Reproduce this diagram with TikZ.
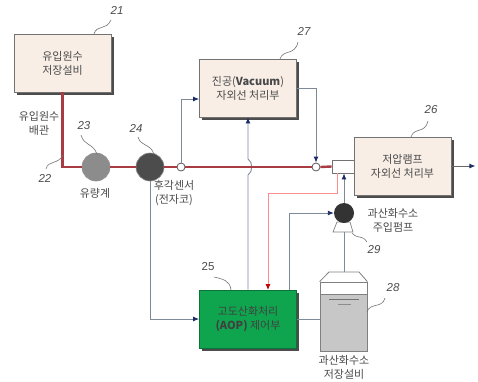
\documentclass[tikz,border=0pt]{standalone}
\usepackage{fontspec}
\setmainfont{Noto Sans CJK KR}
\newfontfamily\numfont{Liberation Sans}
\usepackage{xcolor}
\usepackage{tikz}
\usetikzlibrary{positioning,arrows.meta,shadows}
\definecolor{boxfill}{HTML}{F8EEE6}
\definecolor{aopgreen}{HTML}{0FA54E}
\definecolor{pipered}{HTML}{A93C42}
\definecolor{linegray}{HTML}{7F8A99}
\definecolor{tipblue}{HTML}{1C2C66}
\definecolor{txtgray}{HTML}{4A4A4A}
\begin{document}
\begin{tikzpicture}[
    x=1pt, y=-1pt,
    font=\fontsize{11}{14}\selectfont,
    blk/.style={draw=black!55, line width=0.8pt, minimum width=97pt, minimum height=58pt, align=center,
                text=txtgray, inner sep=0pt, drop shadow={shadow xshift=2.5pt, shadow yshift=-2.5pt, fill=black!70, opacity=1}},
    src/.style={blk, fill=boxfill},
    ctrl/.style={blk, fill=aopgreen, draw=aopgreen!70!black, text=black!75},
    txt/.style={align=center, text=txtgray, inner sep=0pt},
    num/.style={inner sep=0pt, text=black!70, font=\numfont\itshape\fontsize{11.5}{12}\selectfont},
    lead/.style={draw=black!55, line width=0.6pt},
    pipe/.style={draw=pipered, line width=2.4pt},
    sig/.style={draw=linegray, line width=0.9pt},
    sigto/.style={sig, -{Latex[length=6pt, width=5pt, color=tipblue]}},
    redto/.style={draw=red!45, line width=0.9pt, -{Latex[length=6pt, width=5pt, color=red!75!black]}},
    meter/.style={circle, draw=black!45, line width=0.6pt, minimum size=28pt, inner sep=0pt},
    joint/.style={circle, draw=black!65, fill=white, line width=0.8pt, minimum size=8pt, inner sep=0pt},
  ]
    \useasboundingbox (0,0) rectangle (478,381);

    % boxes
    \node[src] (store) at (62.5,63) {유입원수\\저장설비};
    \node[src] (vac) at (248,88) {진공(\textbf{Vacuum})\\자외선 처리부};
    \node[src] (lamp) at (402.5,166) {저압램프\\자외선 처리부};
    \node[ctrl] (aop) at (248,319) {고도산화처리\\\textbf{(AOP)} 제어부};

    % meters on the pipe
    \node[meter, fill=black!45] (flow) at (96,167) {};
    \node[meter, fill=black!70] (nose) at (150,167) {};
    \node[joint] (jointa) at (181,167) {};
    \node[joint] (jointb) at (316,167) {};
    \node[draw=black!55, fill=white, line width=0.8pt, minimum width=22pt, minimum height=13pt, inner sep=0pt] (valve) at (343,166.5) {};

    % tank
    \node[draw=black!50, fill=white, line width=0.8pt, minimum width=47pt, minimum height=69pt, inner sep=0pt] (tank) at (343.5,316.5) {};
    \node[draw=black!50, fill=black!22, line width=0.8pt, minimum width=47pt, minimum height=57pt, inner sep=0pt, anchor=south] (liquid) at (tank.south) {};
    \draw[draw=black!50, fill=white, line width=0.8pt] (tank.north west) -- (329,272) coordinate (cap) -- (359,272) -- (tank.north east);
    \draw[black!55, line width=0.7pt] (329,299) -- (359,299);
    \draw[black!45, line width=0.7pt] (338,304) -- (351,304);

    % pump
    \draw[draw=black!50, fill=white, line width=0.7pt] (337,222) -- (333,232) -- (353,232) -- (350,222) -- cycle;
    \node[circle, fill=black!80, minimum size=20pt, inner sep=0pt] (pump) at (344,213) {};
    \coordinate (pumpfoot) at (344,232);
    \coordinate (tanktop) at (344,272);

    % signal lines
    \draw[sigto] (jointa.north) |- (vac.west |- 0,99);
    \draw[sigto] (nose.south) |- (aop.west);
    \draw[sigto] (aop.north) -- (248,175) .. controls (253,172) and (253,162) .. (248,159) -- (vac.south);
    \draw[sigto] (vac.east) -| (jointb.north);
    \draw[sigto] (pump.north) -- (pump.north |- valve.south);
    \draw[sigto] (289,290) |- (pump.west);
    \draw[sig] (pumpfoot) -- (tanktop);
    \draw[sig] (aop.east) -- (aop.east -| tank.west);
    \draw[redto] (337,173) |- (268,193) -- (268,290);
    \draw[sigto, draw=black!60, -{Latex[length=6pt, width=5pt, color=tipblue]}] (lamp.east) -- ++(24,0) coordinate (outlet);

    % pipe
    \draw[pipe] (store.south) |- (flow.west);
    \draw[pipe] (flow.east) -- (nose.west);
    \draw[pipe] (nose.east) -- (jointa.west);
    \draw[pipe] (jointa.east) -- (jointb.west);
    \draw[pipe] (jointb.east) -- (valve.west);

    % labels
    \node[txt] (lblpipe) at (39,123) {유입원수\\배관};
    \node[txt] (lblflow) at (95,193) {유량계};
    \node[txt] (lblnose) at (174,193) {후각센서\\(전자코)};
    \node[txt] (lblpump) at (393,220) {과산화수소\\주입펌프};
    \node[txt] (lbltank) at (344,367) {과산화수소\\저장설비};

    % reference numbers
    \node[num] (n21) at (117,10) {21};
    \node[num] (n22) at (45,178) {22};
    \node[num] (n23) at (84,126) {23};
    \node[num] (n24) at (136,128) {24};
    \node[num, font=\numfont\fontsize{11.5}{12}\selectfont] (n25) at (208,267) {25};
    \node[num] (n26) at (431,110) {26};
    \node[num] (n27) at (304,31) {27};
    \node[num] (n28) at (393,288) {28};
    \node[num] (n29) at (374,250) {29};

    \draw[lead] (94,34) .. controls (97,24) and (106,31) .. (111,20);
    \draw[lead] (63,155) .. controls (58,165) and (48,160) .. (46,169);
    \draw[lead] (81,135) .. controls (84,146) and (93,143) .. (97,154);
    \draw[lead] (138,137) .. controls (141,147) and (150,143) .. (154,154);
    \draw[lead] (214,277) .. controls (222,279) and (230,280) .. (231,290);
    \draw[lead] (411,137) .. controls (414,127) and (425,134) .. (428,121);
    \draw[lead] (280,59) .. controls (283,49) and (295,56) .. (298,42);
    \draw[lead] (367,312) .. controls (370,302) and (382,309) .. (385,298);
    \draw[lead] (352,233) .. controls (358,240) and (362,234) .. (367,242);
\end{tikzpicture}
\end{document}
